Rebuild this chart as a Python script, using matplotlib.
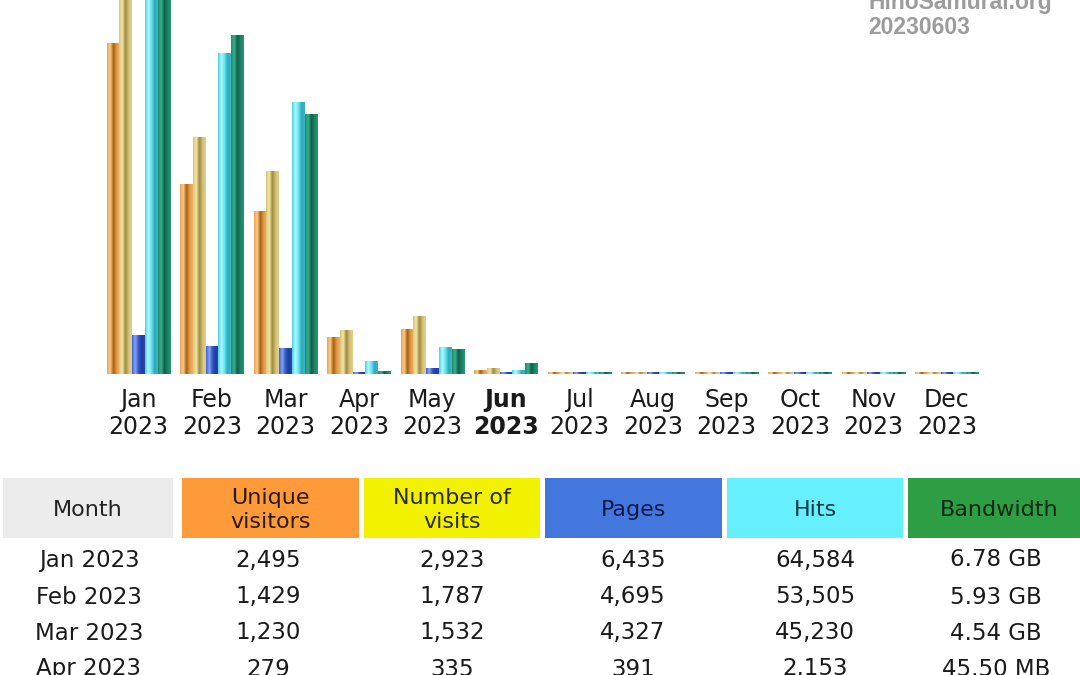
import numpy as np
import matplotlib.pyplot as plt
from matplotlib.colors import LinearSegmentedColormap
from matplotlib.patches import Rectangle

# monthly history, 2023
months = ["Jan", "Feb", "Mar", "Apr", "May", "Jun",
          "Jul", "Aug", "Sep", "Oct", "Nov", "Dec"]
year = "2023"
unique_visitors = [2495, 1429, 1230, 279, 339, 30, 0, 0, 0, 0, 0, 0]
visits = [2923, 1787, 1532, 335, 435, 45, 0, 0, 0, 0, 0, 0]
pages = [6435, 4695, 4327, 391, 1000, 170, 0, 0, 0, 0, 0, 0]
hits = [64584, 53505, 45230, 2153, 4500, 650, 0, 0, 0, 0, 0, 0]
bandwidth_gb = [6.78, 5.93, 4.54, 0.0444, 0.44, 0.19, 0, 0, 0, 0, 0, 0]
bandwidth_txt = ["6.78 GB", "5.93 GB", "4.54 GB", "45.50 MB"]
table_rows = 4  # rows visible in the screenshot
current = 5     # Jun is shown in bold

W, H = 1080, 675
fig = plt.figure(figsize=(W / 100, H / 100), dpi=100)
fig.patch.set_facecolor("white")

# ---- bar chart ----
base_px = 374
ax = fig.add_axes([0, (H - base_px) / H, 1, base_px / H])
full_px = 388
pitch = 73.5
first_px = 138.5

v_max = max(visits + unique_visitors)
h_max = max(hits + pages)
k_max = max(bandwidth_gb)
series = [
    (np.array(unique_visitors) / v_max, ["#E9A458", "#FCCB8A", "#A5600F", "#E39A48", "#EFB068"]),
    (np.array(visits) / v_max, ["#D9C47E", "#F4E6A6", "#9C8A3C", "#D6C078", "#E2D090"]),
    (np.array(pages) / h_max, ["#3E62D4", "#86A4F2", "#3558C8", "#1F3C9E", "#2A48AA"]),
    (np.array(hits) / h_max, ["#4ECFE0", "#B0F8FF", "#66E4F2", "#2FA8B8", "#3AB8C8"]),
    (np.array(bandwidth_gb) / k_max, ["#1E8C6C", "#3CAE8C", "#0E5E48", "#1C8466", "#26977A"]),
]
bw = 12.8 / pitch
min_h = 2.0 / full_px
x = np.arange(len(months))
grad = np.linspace(0, 1, 64).reshape(1, -1)
for k, (vals, cols) in enumerate(series):
    cmap = LinearSegmentedColormap.from_list(f"s{k}", cols)
    bars = ax.bar(x + (k - 2) * bw, np.maximum(vals, min_h), width=bw,
                  color=cols[0], linewidth=0, zorder=1)
    for b in bars:
        im = ax.imshow(grad, cmap=cmap, aspect="auto", zorder=2,
                       extent=[b.get_x(), b.get_x() + b.get_width(), 0, b.get_height()])
        im.set_clip_path(b)

ax.set_xlim(-first_px / pitch, (W - first_px) / pitch)
ax.set_ylim(0, base_px / full_px)
ax.set_xticks(x)
ax.set_xticklabels([f"{m}\n{year}" for m in months], fontsize=17, color="#1a1a1a",
                   linespacing=1.15)
ax.get_xticklabels()[current].set_fontweight("bold")
ax.tick_params(axis="x", length=0, pad=10)
ax.set_yticks([])
for s in ax.spines.values():
    s.set_visible(False)
ax.set_facecolor("none")

# watermark
fig.text(868 / W, 1 - 3 / H, "HinoSamurai.org", fontsize=16.5, fontweight="bold",
         color="#9c9c9c", family="Liberation Sans", va="center", ha="left")
fig.text(868 / W, 1 - 27 / H, "20230603", fontsize=16.5, fontweight="bold",
         color="#9c9c9c", family="Liberation Sans", va="center", ha="left")

# ---- table ----
tb = fig.add_axes([0, 0, 1, 1], zorder=-1)
tb.set_xlim(0, W)
tb.set_ylim(H, 0)
tb.axis("off")

headers = ["Month", "Unique\nvisitors", "Number of\nvisits", "Pages", "Hits", "Bandwidth"]
head_bg = ["#ECECEC", "#FF9A3A", "#F2F200", "#4477DD", "#66F0FF", "#2E9E45"]
head_fg = ["#222222", "#2a1a0a", "#2a2a10", "#0e1a4a", "#0e3a48", "#0a2a10"]
col_edges = [(3, 173), (182, 359), (364, 540), (545, 722), (727, 903), (908, 1090)]
centers = [89, 268, 452, 633, 815, 996]
for (x0, x1), bg, fg, hd in zip(col_edges, head_bg, head_fg, headers):
    tb.add_patch(Rectangle((x0, 478), x1 - x0, 60, color=bg, lw=0))
    tb.text((x0 + x1) / 2, 510, hd, ha="center", va="center", fontsize=16,
            color=fg, linespacing=1.25)

row_y = [560, 597, 633, 669]
for r in range(table_rows):
    cells = [f"{months[r]} {year}", f"{unique_visitors[r]:,}", f"{visits[r]:,}",
             f"{pages[r]:,}", f"{hits[r]:,}", bandwidth_txt[r]]
    for c, txt in enumerate(cells):
        tb.text(centers[c], row_y[r], txt, ha="center", va="center", fontsize=16.5,
                color="#1a1a1a")

fig.savefig("out.png", dpi=100)
